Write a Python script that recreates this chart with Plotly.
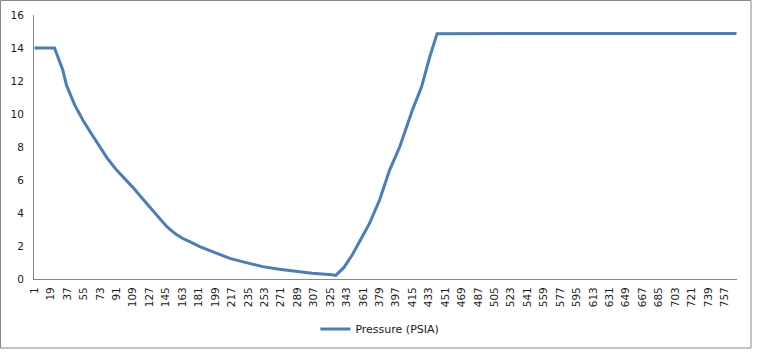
import plotly.graph_objects as go

# Sample index (category number) and pressure
sample_idx = [1, 10, 23, 32, 36, 45, 54, 63, 70, 81, 91, 108, 127, 146, 155, 163, 171, 182,
              196, 215, 233, 251, 269, 288, 305, 327, 331,
              340, 349, 360, 368, 379, 390, 401, 415, 425, 434, 442,
              460, 500, 550, 600, 650, 700, 770]
pressure = [14.0, 14.0, 14.0, 12.67, 11.76, 10.55, 9.64, 8.83, 8.22, 7.3, 6.6, 5.6, 4.38, 3.17, 2.75, 2.47, 2.26, 1.96,
            1.66, 1.25, 0.99, 0.75, 0.59, 0.44, 0.35, 0.26, 0.22,
            0.7, 1.45, 2.56, 3.37, 4.79, 6.6, 8.0, 10.24, 11.65, 13.47, 14.87,
            14.87, 14.86, 14.86, 14.86, 14.86, 14.88, 14.88]
n_categories = 770
tick_values = list(range(1, 758, 18))
tick_labels = [str(v) for v in tick_values]
series_name = "Pressure (PSIA)"

W, H = 757, 355
L, R, T, B = 34, 20, 15, 76
pw, ph = W - L - R, H - T - B

fig = go.Figure()
fig.add_trace(go.Scatter(x=sample_idx, y=pressure, mode="lines", name=series_name,
                         line=dict(color="#4A7EBB", width=3)))

font = dict(family="DejaVu Sans", size=10.5, color="#1a1a1a")
fig.update_layout(
    width=W, height=H,
    margin=dict(l=L, r=R, t=T, b=B, pad=0),
    paper_bgcolor="white", plot_bgcolor="white",
    font=font,
    showlegend=True,
    legend=dict(orientation="h", x=0.492, xanchor="center", y=(279 - 329) / ph,
                yanchor="middle", font=dict(family="DejaVu Sans", size=11, color="#1a1a1a"),
                bgcolor="rgba(0,0,0,0)"),
    xaxis=dict(range=[0.5, n_categories + 0.5], tickmode="array", tickvals=tick_values,
               ticktext=tick_labels, tickangle=-90, showgrid=False, zeroline=False,
               showline=True, linecolor="#868686", linewidth=1, ticks="",
               tickfont=font, automargin=False, ticklabelstandoff=3),
    yaxis=dict(range=[0, 16], dtick=2, showgrid=False, zeroline=False, showline=True,
               linecolor="#868686", linewidth=1, ticks="", tickfont=font,
               automargin=False, ticklabelstandoff=7),
    shapes=[dict(type="rect", xref="paper", yref="paper",
                 x0=(0.5 - L) / pw, x1=(751 - L) / pw,
                 y0=(279 - 348) / ph, y1=(279 - 0.5) / ph,
                 line=dict(color="#868686", width=1), fillcolor="rgba(0,0,0,0)")],
)

fig.write_html("out.html", config={"displayModeBar": False},
               post_script="document.body.style.margin='0';document.body.style.padding='0';")
